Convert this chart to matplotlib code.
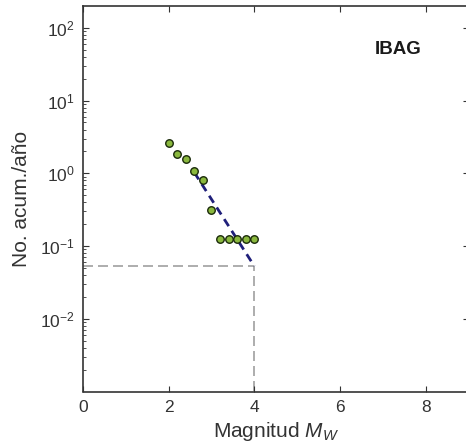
import matplotlib
matplotlib.use("Agg")
import matplotlib.pyplot as plt
from matplotlib.ticker import LogLocator, FixedLocator, FixedFormatter
import numpy as np

plt.rcParams['font.family'] = ['Liberation Sans', 'DejaVu Sans']
plt.rcParams['mathtext.fontset'] = 'custom'
plt.rcParams['mathtext.rm'] = 'Liberation Sans'
plt.rcParams['mathtext.it'] = 'Liberation Sans:italic'

# Data
magnitudes = [2.0, 2.2, 2.4, 2.6, 2.8, 3.0, 3.2, 3.4, 3.6, 3.8, 4.0]
cum_rate = [2.64, 1.83, 1.56, 1.08, 0.80, 0.31, 0.126, 0.126, 0.126, 0.126, 0.126]
fit_x = [2.6, 4.0]
fit_y = [1.03, 0.053]
ref_mag = 4.0
ref_rate = 0.053
x_ticks = [0, 2, 4, 6, 8]
y_ticks = [1e-2, 1e-1, 1e0, 1e1, 1e2]
y_tick_labels = ['$10^{-2}$', '$10^{-1}$', '$10^{0}$', '$10^{1}$', '$10^{2}$']

W, H = 466, 444
fig = plt.figure(figsize=(W / 100, H / 100), dpi=100)
left, right, bottom, top = 82.7, 468.8, 391.5, 6.0
ax = fig.add_axes([left / W, (H - bottom) / H, (right - left) / W, (bottom - top) / H])

ax.set_yscale('log')
ax.set_xlim(0, 9)
ax.set_ylim(1e-3, 10 ** 2.3)

ax.plot([0, ref_mag], [ref_rate, ref_rate], linestyle=(0, (6, 3)), color='#a0a0a0', lw=1.2, zorder=1)
ax.plot([ref_mag, ref_mag], [1e-3, ref_rate], linestyle=(0, (6, 3)), color='#a0a0a0', lw=1.2, zorder=1)
ax.plot(fit_x, fit_y, linestyle=(0, (3, 2)), color='#1f1f7a', lw=2.0, zorder=2)
ax.plot(magnitudes, cum_rate, 'o', ms=5.4, mfc='#8ab83e', mec='#1a2a0a', mew=1.0, zorder=3)

ax.xaxis.set_major_locator(FixedLocator(x_ticks))
ax.yaxis.set_major_locator(FixedLocator(y_ticks))
ax.yaxis.set_major_formatter(FixedFormatter(y_tick_labels))
ax.yaxis.set_minor_locator(LogLocator(base=10, subs=np.arange(2, 10)))
ax.tick_params(which='both', direction='in', top=True, right=True, labelsize=12.5, colors='#333333')
ax.tick_params(which='major', length=4)
ax.tick_params(which='minor', length=2)
ax.tick_params(axis='x', pad=6)
ax.tick_params(axis='y', pad=6)
for s in ax.spines.values():
    s.set_color('#333333')
    s.set_linewidth(1.2)

ax.set_xlabel('Magnitud $M_W$', fontsize=15, color='#333333', labelpad=4)
ax.set_ylabel('No. acum./año', fontsize=15, color='#333333', labelpad=6)
ax.text(0.877, 0.886, 'IBAG', transform=ax.transAxes, fontsize=13.5, fontweight='bold',
        ha='right', va='center', color='#1a1a1a')

fig.savefig('out.png', dpi=100)
